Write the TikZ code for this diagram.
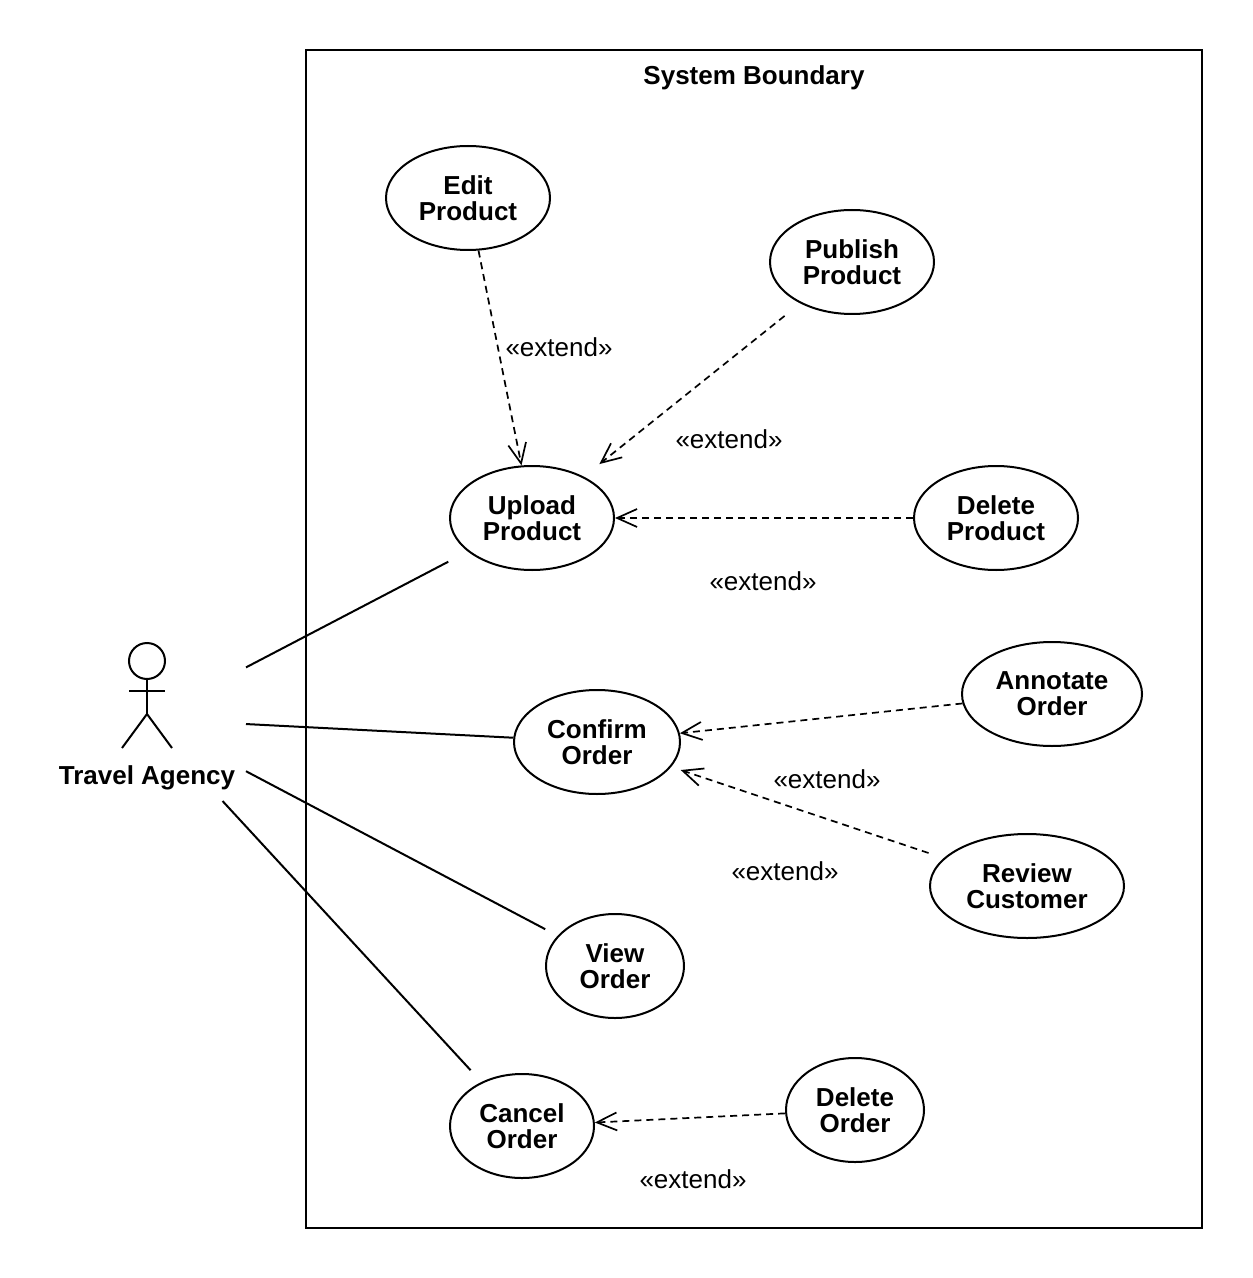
\documentclass[tikz,border=0pt]{standalone}
\usepackage{fontspec}
\setmainfont{Liberation Sans}
\usetikzlibrary{arrows.meta,shapes.geometric}
\begin{document}
\begin{tikzpicture}[x=0.5pt, y=-0.5pt, line width=1pt,
	usecase/.style={draw, ellipse, inner sep=0pt, minimum height=52pt, align=center, font=\bfseries\fontsize{13}{13}\selectfont},
	extlabel/.style={inner sep=0pt, font=\fontsize{13}{13}\selectfont},
	assoc/.style={draw},
	extend/.style={draw, dash pattern=on 3.5pt off 2.5pt, line width=0.85pt, -{Straight Barb[length=10pt,width=9pt,line width=0.85pt]}}]
	\useasboundingbox (0,0) rectangle (1252,1278);

	% 1. system boundary
	\draw (306,50) rectangle (1202,1228);
	\node[inner sep=0pt, font=\bfseries\fontsize{13}{13}\selectfont] (boundary) at (754,78) {System Boundary};

	% 2. actor
	\node[minimum width=98pt, minimum height=81pt, inner sep=0pt] (agency) at (147,719) {};
	\draw (147,661) circle (9pt);
	\draw (147,679) -- (147,714);
	\draw (129,691) -- (165,691);
	\draw (122,748) -- (147,714) -- (172,748);
	\node[inner sep=0pt, font=\bfseries\fontsize{13}{13}\selectfont] (agencylabel) at (147,778) {Travel Agency};

	% 3. use cases
	\node[usecase, minimum width=82pt] (edit) at (468,198) {Edit\\Product};
	\node[usecase, minimum width=82pt] (publish) at (852,262) {Publish\\Product};
	\node[usecase, minimum width=82pt] (upload) at (532,518) {Upload\\Product};
	\node[usecase, minimum width=82pt] (deleteprod) at (996,518) {Delete\\Product};
	\node[usecase, minimum width=83pt] (confirm) at (597,742) {Confirm\\Order};
	\node[usecase, minimum width=90pt] (annotate) at (1052,694) {Annotate\\Order};
	\node[usecase, minimum width=97pt] (review) at (1027,886) {Review\\Customer};
	\node[usecase, minimum width=69pt] (view) at (615,966) {View\\Order};
	\node[usecase, minimum width=72pt] (cancel) at (522,1126) {Cancel\\Order};
	\node[usecase, minimum width=69pt] (deleteord) at (855,1110) {Delete\\Order};

	% 4. associations
	\draw[assoc, shorten >=11pt] (agency) -- (upload);
	\draw[assoc] (agency) -- (confirm);
	\draw[assoc, shorten >=7pt] (agency) -- (view);
	\draw[assoc, shorten >=8pt] (agency) -- (cancel);

	% 5. extend relations
	\draw[extend] (edit) -- (upload);
	\draw[extend, shorten <=10pt, shorten >=10pt] (publish) -- (upload);
	\draw[extend] (deleteprod) -- (upload);
	\draw[extend] (annotate) -- (confirm);
	\draw[extend, shorten <=8pt, shorten >=5pt] (review) -- (confirm);
	\draw[extend] (deleteord) -- (cancel);

	% 6. extend labels
	\node[extlabel] (ext1) at (559,347) {«extend»};
	\node[extlabel] (ext2) at (729,439) {«extend»};
	\node[extlabel] (ext3) at (763,581) {«extend»};
	\node[extlabel] (ext4) at (827,779) {«extend»};
	\node[extlabel] (ext5) at (785,871) {«extend»};
	\node[extlabel] (ext6) at (693,1179) {«extend»};
\end{tikzpicture}
\end{document}
